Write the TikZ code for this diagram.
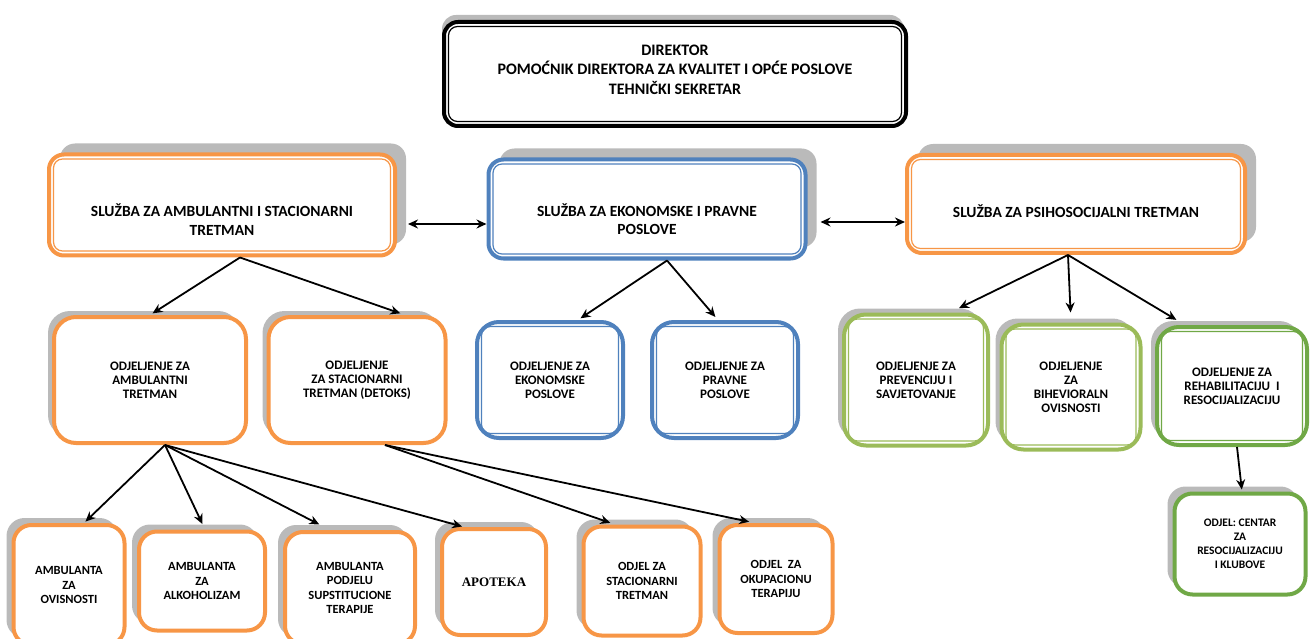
\documentclass[tikz,border=0pt]{standalone}
\usepackage{fontspec}
\setmainfont{Carlito}
\newfontfamily\apofont{Liberation Serif}
\usepackage{tikz}
\usetikzlibrary{arrows.meta,positioning,calc,shadows}
\definecolor{sluzbaorange}{RGB}{247,150,70}
\definecolor{sluzbablue}{RGB}{79,129,189}
\definecolor{sluzbagreen}{RGB}{155,187,89}
\definecolor{klubgreen}{RGB}{112,168,70}
% tekst pomaknut okomito u kutiji
\newcommand{\pomak}[2]{\raisebox{#1}[0pt][0pt]{\begin{tabular}{@{}c@{}}#2\end{tabular}}}

\begin{document}
\begin{tikzpicture}[x=1pt, y=-1pt,
  inset/.style={path picture={\draw[#1, line width=1.2pt, rounded corners=9pt]
      ([shift={(4.5pt,4.5pt)}]path picture bounding box.south west) rectangle
      ([shift={(-4.5pt,-4.5pt)}]path picture bounding box.north east);}},
  sh/.style 2 args={drop shadow={shadow xshift=#1, shadow yshift=#2, fill=black!27, opacity=1}},
  box/.style={rectangle, fill=white, align=center, inner sep=1pt, line width=4pt},
  boss/.style={box, draw=black, inset=black, rounded corners=14pt, sh={-2pt}{7pt},
    font=\bfseries\fontsize{16}{19.5}\selectfont},
  sluzba/.style={box, draw=#1, inset=#1, rounded corners=15pt, sh={11pt}{11pt},
    font=\bfseries\fontsize{15.5}{18.5}\selectfont},
  odjel/.style={box, draw=#1, rounded corners=22pt, font=\bfseries\fontsize{13}{14}\selectfont},
  amb/.style={box, draw=sluzbaorange, rounded corners=18pt, sh={-7pt}{7pt},
    font=\bfseries\fontsize{12.5}{14.5}\selectfont},
  arr/.style={-{Stealth[length=10pt,width=9pt]}, line width=1.8pt},
  both/.style={{Stealth[length=10pt,width=9pt]}-{Stealth[length=10pt,width=9pt]}, line width=1.8pt}]
\useasboundingbox (0,0) rectangle (1312,639);

% uprava
\node[boss, minimum width=462pt, minimum height=104pt] (dir) at (675,74)
  {\pomak{-1pt}{DIREKTOR\\POMOĆNIK DIREKTORA ZA KVALITET I OPĆE POSLOVE\\TEHNIČKI SEKRETAR}};

% sluzbe
\node[sluzba=sluzbaorange, minimum width=346pt, minimum height=101pt] (amb) at (222,205)
  {\pomak{-21pt}{SLUŽBA ZA AMBULANTNI I STACIONARNI\\TRETMAN}};
\node[sluzba=sluzbablue, minimum width=317pt, minimum height=99pt] (eko) at (647,209)
  {\pomak{-16.5pt}{SLUŽBA ZA EKONOMSKE I PRAVNE\\POSLOVE}};
\node[sluzba=sluzbaorange, minimum width=338pt, minimum height=98pt] (psi) at (1076,204)
  {\pomak{-13.5pt}{SLUŽBA ZA PSIHOSOCIJALNI TRETMAN}};

% odjeljenja
\node[odjel=sluzbaorange, sh={-6pt}{6pt}, minimum width=192pt, minimum height=126pt] (odamb) at (150,380)
  {ODJELJENJE ZA\\AMBULANTNI\\TRETMAN};
\node[odjel=sluzbaorange, sh={-6pt}{6pt}, minimum width=177pt, minimum height=126pt] (odstac) at (357,380)
  {ODJELJENJE\\ZA STACIONARNI\\TRETMAN (DETOKS)};
\node[odjel=sluzbablue, inset=sluzbablue, minimum width=146pt, minimum height=116pt] (odeko) at (550,380)
  {ODJELJENJE ZA\\EKONOMSKE\\POSLOVE};
\node[odjel=sluzbablue, inset=sluzbablue, minimum width=146pt, minimum height=116pt] (odprav) at (725,380)
  {ODJELJENJE ZA\\PRAVNE\\POSLOVE};
\node[odjel=sluzbagreen, inset=sluzbagreen, sh={-6pt}{6pt}, minimum width=144pt, minimum height=131pt] (odprev) at (916,380)
  {ODJELJENJE ZA\\PREVENCIJU I\\SAVJETOVANJE};
\node[odjel=sluzbagreen, inset=sluzbagreen, sh={-6pt}{6pt}, minimum width=139pt, minimum height=125pt] (odbih) at (1071,387)
  {ODJELJENJE\\ZA\\BIHEVIORALN\\OVISNOSTI};
\node[odjel=klubgreen, inset=klubgreen, sh={-6pt}{6pt}, minimum width=150pt, minimum height=118pt] (odreh) at (1232,386)
  {ODJELJENJE ZA\\REHABILITACIJU~ I\\RESOCIJALIZACIJU};
\node[odjel=klubgreen, rounded corners=18pt, sh={-7pt}{7pt}, minimum width=131pt, minimum height=101pt,
  font=\bfseries\fontsize{11.5}{14}\selectfont] (klub) at (1240,544)
  {ODJEL: CENTAR\\ZA\\RESOCIJALIZACIJU\\I KLUBOVE};

% ambulante
\node[amb, minimum width=111pt, minimum height=120pt] (ovis) at (69,585) {AMBULANTA\\ZA\\OVISNOSTI};
\node[amb, minimum width=126pt, minimum height=99pt] (alk) at (202,581) {AMBULANTA\\ZA\\ALKOHOLIZAM};
\node[amb, minimum width=130pt, minimum height=112pt] (sup) at (350,588) {AMBULANTA\\PODJELU\\SUPSTITUCIONE\\TERAPIJE};
\node[amb, minimum width=104pt, minimum height=106pt, font=\apofont\bfseries\fontsize{13}{15}\selectfont] (apo) at (494,582) {APOTEKA};
\node[amb, minimum width=117pt, minimum height=109pt] (stac) at (642,581) {ODJEL ZA\\STACIONARNI\\TRETMAN};
\node[amb, minimum width=113pt, minimum height=108pt] (okup) at (776,579) {ODJEL~ ZA\\OKUPACIONU\\TERAPIJU};

% veze
\draw[both, shorten <=11pt] ([yshift=-19pt]amb.east) -- ([yshift=-19pt]amb.east -| eko.west);
\draw[both, shorten <=13pt] ([yshift=-13pt]eko.east) -- ([yshift=-13pt]eko.east -| psi.west);

\draw[arr, shorten >=3pt] ([xshift=18pt]amb.south) -- (odamb.north);
\draw[arr, shorten >=5pt] ([xshift=18pt]amb.south) -- ([xshift=48pt]odstac.north);
\draw[arr, shorten >=3pt] ([xshift=20pt]eko.south) -- ([xshift=28pt]odeko.north);
\draw[arr, shorten >=4pt] ([xshift=20pt]eko.south) -- ([xshift=-7pt]odprav.north);
\draw[arr, shorten >=10pt] ([xshift=-8pt]psi.south) -- ([xshift=34pt]odprev.north);
\draw[arr, shorten >=10pt] ([xshift=-8pt]psi.south) -- (odbih.north);
\draw[arr, shorten >=10pt] ([xshift=-8pt]psi.south) -- ([xshift=-47pt]odreh.north);
\draw[arr, shorten >=2pt] ([xshift=5pt]odreh.south) -- ([xshift=2pt]klub.north);

\foreach \kid/\dx/\gap in {ovis/15/2, alk/3/6, sup/-20/12, apo/-30/2}
  \draw[arr, shorten >=\gap pt] ([xshift=15pt]odamb.south) -- ([xshift=\dx pt]\kid.north);
\draw[arr, shorten >=5pt] ([xshift=28pt]odstac.south) -- ([xshift=-27pt]stac.north);
\draw[arr, shorten >=6pt] ([xshift=28pt]odstac.south) -- ([xshift=-21pt]okup.north);
\end{tikzpicture}
\end{document}
